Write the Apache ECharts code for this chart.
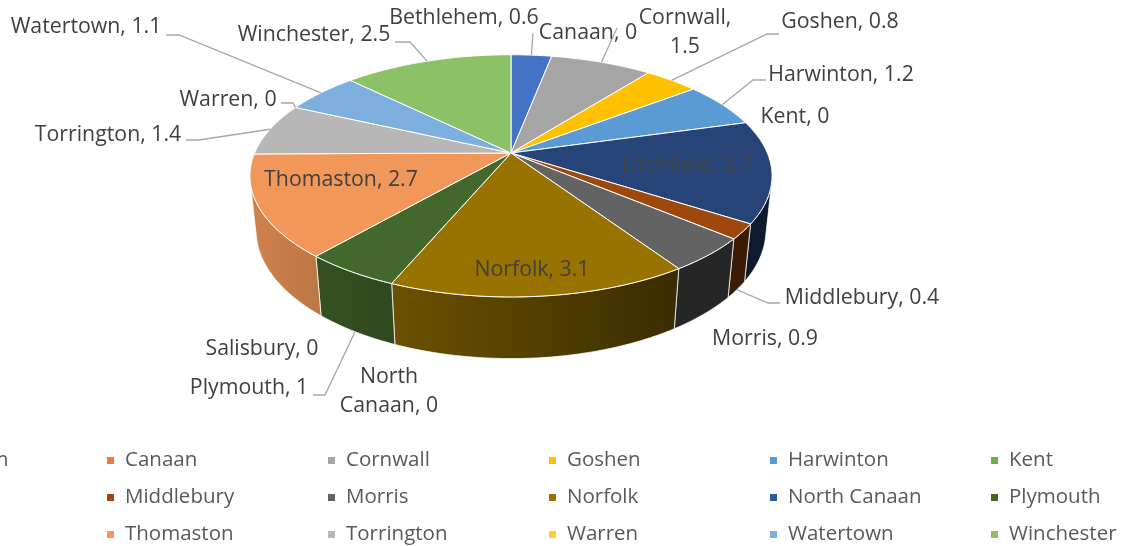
<!DOCTYPE html>
<html><head><meta charset="utf-8">
<script src="https://cdn.jsdelivr.net/npm/echarts@6/dist/echarts.min.js"></script>
<style>html,body{margin:0;padding:0;background:#fff}#c{width:1129px;height:546px}</style>
</head><body><div id="c"></div>
<script>
// ---- data ----
const towns = ['Bethlehem','Canaan','Cornwall','Goshen','Harwinton','Kent','Litchfield','Middlebury','Morris','Norfolk','North Canaan','Plymouth','Salisbury','Thomaston','Torrington','Warren','Watertown','Winchester'];
const values = [0.6,0,1.5,0.8,1.2,0,2.7,0.4,0.9,3.1,0,1,0,2.7,1.4,0,1.1,2.5];

// ---- styles ----
const COLORS = ['#4472C4','#ED7D31','#A5A5A5','#FFC000','#5B9BD5','#70AD47','#264478','#9E480E','#636363','#997300','#255E91','#43682B','#698ED0','#F1975A','#B7B7B7','#FFCD33','#7CAFDD','#8CC168'];
const FONT = 'Open Sans';
// label layout: center of text, optional line break, leader start points, leader ends on side bottom?
const LABEL_LAYOUT = [
  {x:464, y:18, lead:[[533,33]]},
  {x:588, y:33},
  {x:685, y:32, wrap:true, lead:[[617,28]]},
  {x:840, y:22, lead:[[779,34],[767,34]]},
  {x:841, y:75, lead:[[766,80],[753,80]]},
  {x:795, y:117},
  {x:687, y:165},
  {x:862, y:298, lead:[[780,303],[768,303]], side:true},
  {x:765, y:339},
  {x:532, y:270},
  {x:389, y:391, wrap:true},
  {x:249, y:388, lead:[[313,395],[325,395]], side:true},
  {x:262, y:349},
  {x:341, y:180},
  {x:108, y:135, lead:[[186,140],[199,140]]},
  {x:228, y:100, lead:[[281,103],[293,103]]},
  {x:86, y:27, lead:[[166,35],[179,35]]},
  {x:314, y:35, lead:[[395,42],[410,42]]}
];
// 3D perspective pie geometry
const GEO = {cx:511, cy:153, F:1210, D:4.72, phi:27.1*Math.PI/180, H:0.24};
const SP = Math.sin(GEO.phi), CP = Math.cos(GEO.phi);
function proj(th, r, h){
  const x3 = r*Math.cos(th), z3 = r*Math.sin(th);
  const d = z3*CP - h*SP;
  const k = GEO.F/(GEO.D - d);
  return [GEO.cx + x3*k, GEO.cy + (z3*SP + h*CP)*k];
}
const total = values.reduce((a,b)=>a+b,0);
const starts = [], ends = [];
let cum = 0;
values.forEach(v => { starts.push(-Math.PI/2 + 2*Math.PI*cum/total); cum += v; ends.push(-Math.PI/2 + 2*Math.PI*cum/total); });
const vis0 = Math.asin(1/(GEO.D*CP)), vis1 = Math.PI - vis0;
const gradX0 = proj(vis1,1,0)[0];
const gradX1 = GEO.cx + 0.65*(GEO.cx - gradX0);

function shade(hex, f){
  const n = parseInt(hex.slice(1),16);
  const r = Math.round(((n>>16)&255)*f), g = Math.round(((n>>8)&255)*f), b = Math.round((n&255)*f);
  return 'rgb('+r+','+g+','+b+')';
}
function arc(a0, a1, h){
  const n = Math.max(2, Math.ceil((a1-a0)/0.01));
  const pts = [];
  for (let k=0;k<=n;k++) pts.push(proj(a0+(a1-a0)*k/n, 1, h));
  return pts;
}
function labelText(i){
  const L = LABEL_LAYOUT[i];
  if (L.wrap) {
    if (towns[i] === 'North Canaan') return 'North\nCanaan, ' + values[i];
    return towns[i] + ',\n' + values[i];
  }
  return towns[i] + ', ' + values[i];
}
function makeRender(i){
  return function(params, api){
    const children = [];
    const a0 = starts[i], a1 = ends[i];
    if (a1 > a0) {
      children.push({type:'polygon', z2:100, shape:{points:[[GEO.cx,GEO.cy]].concat(arc(a0,a1,0))},
        style:{fill:COLORS[i], stroke:'#ffffff', lineWidth:1, lineJoin:'round'}});
      const s0 = Math.max(a0, vis0), s1 = Math.min(a1, vis1);
      if (s1 > s0) {
        const pts = arc(s0,s1,0).concat(arc(s0,s1,GEO.H).reverse());
        children.push({type:'polygon', z2:10, shape:{points:pts},
          style:{fill:new echarts.graphic.LinearGradient(gradX0,0,gradX1,0,[{offset:0,color:shade(COLORS[i],0.86)},{offset:1,color:shade(COLORS[i],0.38)}],true),
                 stroke:'rgba(255,255,255,0.75)', lineWidth:1}});
      }
    }
    const L = LABEL_LAYOUT[i];
    if (L.lead) {
      const m = (a0+a1)/2;
      const end = proj(m, 1, L.side ? GEO.H : 0);
      children.push({type:'polyline', z2:250, shape:{points:L.lead.concat([end])},
        style:{stroke:'#A6A6A6', lineWidth:1.3, fill:null}});
    }
    children.push({type:'text', z2:300, x:L.x, y:L.y,
      style:{text:labelText(i), fill:'#404040', fontSize:21.3, fontFamily:FONT, align:'center', verticalAlign:'middle', lineHeight:29}});
    return {type:'group', children};
  };
}

const series = towns.map((t,i)=>({
  type:'custom', name:t, coordinateSystem:'none', silent:true, animation:false,
  itemStyle:{color:COLORS[i]},
  data:[values[i]],
  renderItem:makeRender(i)
}));

const chart = echarts.init(document.getElementById('c'), null, {renderer:'canvas'});
chart.setOption({
  animation:false,
  color:COLORS,
  legend:{
    data:towns, orient:'horizontal', left:-119, top:445, width:1320,
    itemWidth:7, itemHeight:7, itemGap:16, icon:'rect', selectedMode:false,
    textStyle:{fontFamily:FONT, fontSize:20.5, color:'#595959', width:187, lineHeight:21, padding:[0,0,0,6]}
  },
  series:series
});
</script>
</body></html>
